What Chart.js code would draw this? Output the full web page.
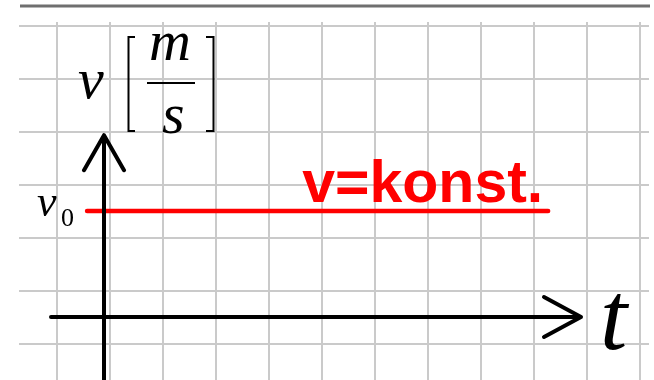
<!DOCTYPE html>
<html>
<head>
<meta charset="utf-8">
<script src="https://cdn.jsdelivr.net/npm/chart.js@4"></script>
<style>
    body { margin: 0; background: #fff; }
    #wrap { width: 654px; height: 380px; position: relative; }
</style>
</head>
<body>
<div id="wrap"><canvas id="vtChart"></canvas></div>
<script>
// grid of the squared paper (in t / v units, axes cross at 0,0)
const gridT = [-0.88, 0.12, 1.12, 2.12, 3.12, 4.12, 5.12, 6.12, 7.12, 8.12, 9.12, 10.12]
const gridV = [-0.51, 0.49, 1.49, 2.49, 3.49, 4.49, 5.49]

// constant velocity
const v0 = 2
const lineT = [-0.32, 8.38]
const lineV = [v0, v0]

// axis arrows
const tAxis = [-1.0, 9.0]
const vAxis = [-1.2, 3.43]

const labelText = 'v=konst.'

const ctx = document.getElementById('vtChart')

const decorations = {
    id: 'decorations',
    beforeDraw(chart) {
        const c = chart.ctx
        c.save()
        c.strokeStyle = '#6f6f6f'
        c.lineWidth = 3
        c.beginPath()
        c.moveTo(20, 6)
        c.lineTo(650, 6)
        c.stroke()
        c.restore()
    },
    afterDatasetsDraw(chart) {
        const c = chart.ctx
        const x = chart.scales.x
        const y = chart.scales.y
        const px = (t) => x.getPixelForValue(t)
        const py = (v) => y.getPixelForValue(v)

        c.save()
        c.strokeStyle = '#000'
        c.lineWidth = 4
        c.lineCap = 'round'
        c.lineJoin = 'round'

        // t axis
        c.beginPath()
        c.moveTo(px(tAxis[0]), py(0))
        c.lineTo(px(tAxis[1]), py(0))
        c.moveTo(px(tAxis[1]) - 37, py(0) - 20)
        c.lineTo(px(tAxis[1]), py(0))
        c.lineTo(px(tAxis[1]) - 37, py(0) + 20)
        c.stroke()

        // v axis
        c.beginPath()
        c.moveTo(px(0), py(vAxis[0]))
        c.lineTo(px(0), py(vAxis[1]))
        c.moveTo(px(0) - 20, py(vAxis[1]) + 35)
        c.lineTo(px(0), py(vAxis[1]))
        c.lineTo(px(0) + 20, py(vAxis[1]) + 35)
        c.stroke()

        // red label
        c.fillStyle = '#ff0000'
        c.font = 'bold 59px "Liberation Sans", Arial, sans-serif'
        c.textBaseline = 'alphabetic'
        c.fillText(labelText, px(3.74), py(2.17))

        // axis letters
        c.fillStyle = '#000'
        c.font = 'italic 98px "Liberation Serif", serif'
        c.fillText('t', 600, py(-0.6))

        c.font = 'italic 44px "Liberation Serif", serif'
        c.fillText('v', 37, py(v0) + 5)
        c.font = '26px "Liberation Serif", serif'
        c.fillText('0', 61, py(v0) + 15)

        c.font = 'italic 58px "Liberation Serif", serif'
        c.fillText('v', 78, 98)
        c.fillText('m', 149, 60)
        c.fillText('s', 162, 133)

        // fraction bar and brackets of the unit
        c.lineWidth = 2
        c.lineCap = 'butt'
        c.lineJoin = 'miter'
        c.beginPath()
        c.moveTo(147, 83)
        c.lineTo(195, 83)
        c.moveTo(135, 37)
        c.lineTo(128.5, 37)
        c.lineTo(128.5, 131)
        c.lineTo(135, 131)
        c.moveTo(206, 37)
        c.lineTo(213.5, 37)
        c.lineTo(213.5, 131)
        c.lineTo(206, 131)
        c.stroke()
        c.restore()
    }
}

new Chart(ctx, {
    type: 'line',
    data: {
        datasets: [{
            label: 'v',
            data: lineT.map((t, i) => ({ x: t, y: lineV[i] })),
            borderColor: '#ff0000',
            borderWidth: 4.5,
            borderCapStyle: 'round',
            pointRadius: 0,
        }],
    },
    options: {
        responsive: true,
        maintainAspectRatio: false,
        animation: false,
        events: [],
        layout: {
            padding: { left: 19, right: 5, top: 22, bottom: 0 },
        },
        plugins: {
            legend: { display: false },
            tooltip: { enabled: false },
        },
        scales: {
            x: {
                type: 'linear',
                min: -85 / 53,
                max: 545 / 53,
                afterBuildTicks: (scale) => {
                    scale.ticks = gridT.map(v => ({ value: v }))
                },
                ticks: { display: false },
                border: { display: false },
                grid: { color: '#cacaca', lineWidth: 2, drawTicks: false },
            },
            y: {
                type: 'linear',
                min: -63 / 53,
                max: 295 / 53,
                afterBuildTicks: (scale) => {
                    scale.ticks = gridV.map(v => ({ value: v }))
                },
                ticks: { display: false },
                border: { display: false },
                grid: { color: '#cacaca', lineWidth: 2, drawTicks: false },
            },
        },
    },
    plugins: [decorations],
})
</script>
</body>
</html>
